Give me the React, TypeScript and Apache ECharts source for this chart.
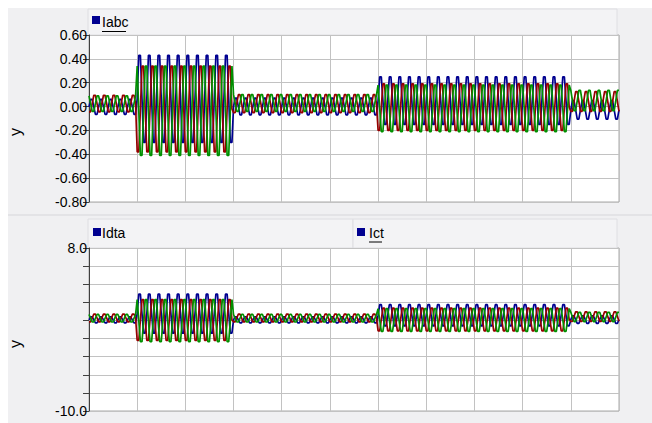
import React, { useEffect, useRef } from "react";
import * as echarts from "echarts";

// time axis (s): 11 grid divisions of 0.1 s, 50 Hz waveforms
const X_MIN = 0;
const X_MAX = 1.1;
const X_STEP = 0.1;
const PERIOD = 0.02;
const SAMPLES_PER_CYCLE = 6;
// segment edges (s) where the waveform level changes
const SEG_EDGES = [0, 0.1, 0.3, 0.6, 1.0, 1.1];

// Top panel (Iabc) per-segment peak / trough values
const IABC_A_PEAK = [0.06, 0.43, 0.07, 0.25, 0.05];
const IABC_A_TROUGH = [-0.065, -0.3, -0.07, -0.15, -0.105];
const IABC_B_PEAK = [0.095, 0.34, 0.1, 0.19, 0.125];
const IABC_B_TROUGH = [-0.045, -0.38, -0.05, -0.2, -0.04];
const IABC_C_PEAK = [0.09, 0.34, 0.1, 0.18, 0.135];
const IABC_C_TROUGH = [-0.04, -0.41, -0.04, -0.21, -0.035];

// Bottom panel (Idta) per-segment peak / trough values
const IDTA_A_PEAK = [0.4, 2.9, 0.4, 1.75, 0.5];
const IDTA_A_TROUGH = [-0.26, -1.4, -0.26, -0.6, -0.33];
const IDTA_B_PEAK = [0.69, 2.3, 0.69, 1.35, 0.95];
const IDTA_B_TROUGH = [-0.15, -2.2, -0.15, -1.15, -0.1];
const IDTA_C_PEAK = [0.66, 2.3, 0.66, 1.3, 0.9];
const IDTA_C_TROUGH = [-0.17, -2.35, -0.17, -1.2, -0.12];

const TOP_TICK_LABELS = ["0.60", "0.40", "0.20", "0.00", "-0.20", "-0.40", "-0.60", "-0.80"];
const BOTTOM_TICK_LABELS = ["8.0", "", "", "", "", "", "", "", "", "-10.0"];

const BLUE = "#000090";
const RED = "#960000";
const GREEN = "#009000";

// sample pattern for each phase (P = peak, Q = trough, M = mid level), 120 deg apart
const PHASE_PATTERNS: Array<Array<"P" | "Q" | "M">> = [
  ["M", "P", "P", "M", "Q", "Q"],
  ["Q", "Q", "M", "P", "P", "M"],
  ["P", "M", "Q", "Q", "M", "P"],
];

function buildWave(peaks: number[], troughs: number[], phase: number): number[][] {
  const dt = PERIOD / SAMPLES_PER_CYCLE;
  const n = Math.round((X_MAX - X_MIN) / dt);
  const out: number[][] = [];
  for (let i = 0; i <= n; i++) {
    const t = X_MIN + i * dt;
    let s = 0;
    while (s < SEG_EDGES.length - 2 && t >= SEG_EDGES[s + 1] - 1e-9) s++;
    const p = peaks[s];
    const q = troughs[s];
    const kind = PHASE_PATTERNS[phase][i % SAMPLES_PER_CYCLE];
    const v = kind === "P" ? p : kind === "Q" ? q : (p + q) / 2;
    out.push([t, v]);
  }
  return out;
}

const FONT = "'Liberation Sans', Arial, sans-serif";

export default function App() {
  const ref = useRef<HTMLDivElement>(null);
  useEffect(() => {
    if (!ref.current) return;
    const chart = echarts.init(ref.current, undefined, { renderer: "svg" });

    const gridBase = { left: 81, right: 33, show: true, backgroundColor: "#ffffff", borderColor: "#a8a8a8", borderWidth: 1 };
    const xBase = {
      type: "value" as const,
      min: X_MIN,
      max: X_MAX,
      interval: X_STEP,
      axisLabel: { show: false },
      axisTick: { show: false },
      axisLine: { show: true, lineStyle: { color: "#a8a8a8" } },
      splitLine: { show: true, lineStyle: { color: "#c2c2c2", width: 1 } },
    };
    const yBase = {
      type: "value" as const,
      axisLine: { show: true, lineStyle: { color: "#404040", width: 1 } },
      axisTick: { show: true, length: 6, lineStyle: { color: "#404040" } },
      splitLine: { show: true, lineStyle: { color: "#c2c2c2", width: 1 } },
    };
    const labelStyle = { color: "#000", fontSize: 14, fontFamily: FONT, margin: 2 };

    const line = (name: string, data: number[][], color: string, axisIndex: number) => ({
      name,
      type: "line" as const,
      xAxisIndex: axisIndex,
      yAxisIndex: axisIndex,
      data,
      showSymbol: false,
      symbol: "none",
      lineStyle: { color, width: 1.7 },
      itemStyle: { color },
      silent: true,
    });

    chart.setOption({
      animation: false,
      backgroundColor: "#f0f0f2",
      grid: [
        { ...gridBase, top: 27, height: 167 },
        { ...gridBase, top: 240, height: 163 },
      ],
      xAxis: [
        { ...xBase, gridIndex: 0 },
        { ...xBase, gridIndex: 1 },
      ],
      yAxis: [
        {
          ...yBase,
          gridIndex: 0,
          min: -0.8,
          max: 0.6,
          interval: 0.2,
          axisLabel: {
            ...labelStyle,
            formatter: (v: number) => TOP_TICK_LABELS[Math.round((0.6 - v) / 0.2)] ?? "",
          },
        },
        {
          ...yBase,
          gridIndex: 1,
          min: -10,
          max: 8,
          interval: 2,
          axisLabel: {
            ...labelStyle,
            formatter: (v: number) => BOTTOM_TICK_LABELS[Math.round((8 - v) / 2)] ?? "",
          },
        },
      ],
      graphic: [
        // top header strip
        { type: "rect", shape: { x: 80, y: 1, width: 529, height: 26 }, style: { fill: "#f3f3f5", stroke: "#dedee2", lineWidth: 1 }, silent: true },
        { type: "rect", shape: { x: 84, y: 8, width: 8, height: 8 }, style: { fill: BLUE } },
        { type: "text", x: 94, y: 14, style: { text: "Iabc", fill: "#000", font: `14px ${FONT}`, textVerticalAlign: "middle" } },
        { type: "line", shape: { x1: 94, y1: 23.5, x2: 118, y2: 23.5 }, style: { stroke: "#000", lineWidth: 1 } },
        // separator between panels
        { type: "line", shape: { x1: 0, y1: 207, x2: 644, y2: 207 }, style: { stroke: "#d6d6da", lineWidth: 1 } },
        // bottom header strips
        { type: "rect", shape: { x: 80, y: 211, width: 265, height: 29 }, style: { fill: "#f3f3f5", stroke: "#dedee2", lineWidth: 1 }, silent: true },
        { type: "rect", shape: { x: 345, y: 211, width: 264, height: 29 }, style: { fill: "#f3f3f5", stroke: "#dedee2", lineWidth: 1 }, silent: true },
        { type: "rect", shape: { x: 85, y: 220, width: 8, height: 8 }, style: { fill: BLUE } },
        { type: "text", x: 94, y: 225, style: { text: "Idta", fill: "#000", font: `14px ${FONT}`, textVerticalAlign: "middle" } },
        { type: "rect", shape: { x: 349, y: 220, width: 8, height: 8 }, style: { fill: BLUE } },
        { type: "text", x: 361, y: 225, style: { text: "Ict", fill: "#000", font: `14px ${FONT}`, textVerticalAlign: "middle" } },
        { type: "line", shape: { x1: 361, y1: 234, x2: 374, y2: 234 }, style: { stroke: "#000", lineWidth: 1 } },
        // y axis titles (rotated)
        { type: "text", x: 7.5, y: 124, rotation: Math.PI / 2, style: { text: "y", fill: "#000", font: `16px ${FONT}`, textAlign: "center", textVerticalAlign: "middle" } },
        { type: "text", x: 7.5, y: 336, rotation: Math.PI / 2, style: { text: "y", fill: "#000", font: `16px ${FONT}`, textAlign: "center", textVerticalAlign: "middle" } },
      ],
      series: [
        line("Iabc a", buildWave(IABC_A_PEAK, IABC_A_TROUGH, 0), BLUE, 0),
        line("Iabc b", buildWave(IABC_B_PEAK, IABC_B_TROUGH, 1), RED, 0),
        line("Iabc c", buildWave(IABC_C_PEAK, IABC_C_TROUGH, 2), GREEN, 0),
        line("Idta a", buildWave(IDTA_A_PEAK, IDTA_A_TROUGH, 0), BLUE, 1),
        line("Idta b", buildWave(IDTA_B_PEAK, IDTA_B_TROUGH, 1), RED, 1),
        line("Idta c", buildWave(IDTA_C_PEAK, IDTA_C_TROUGH, 2), GREEN, 1),
      ],
    });
    return () => chart.dispose();
  }, []);

  return <div ref={ref} style={{ position: "absolute", left: 8, top: 8, width: 644, height: 415 }} />;
}
